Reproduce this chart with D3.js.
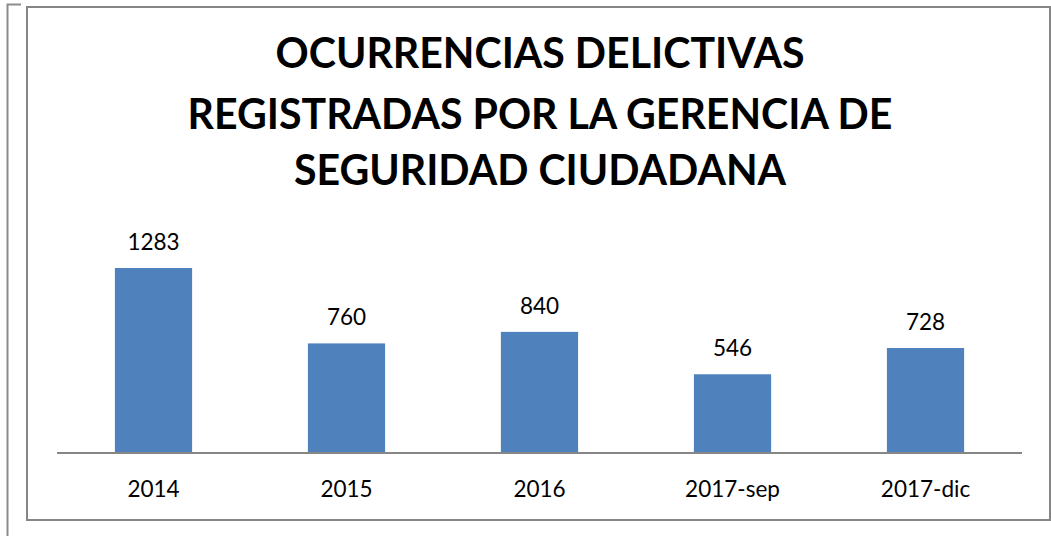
<!DOCTYPE html>
<html>
<head>
<meta charset="utf-8">
<script src="https://cdn.jsdelivr.net/npm/d3@7"></script>
<style>
html,body{margin:0;padding:0;background:#fff;}
svg{display:block;}
</style>
</head>
<body>
<svg id="chart" width="1051" height="536"></svg>
<script>
const categories = ["2014", "2015", "2016", "2017-sep", "2017-dic"];
const values = [1283, 760, 840, 546, 728];
const titleLines = ["OCURRENCIAS DELICTIVAS", "REGISTRADAS POR LA GERENCIA DE", "SEGURIDAD CIUDADANA"];

const svg = d3.select("#chart");
const font = "Lato, Carlito, Calibri, 'Open Sans', sans-serif";

// outer frame fragments
svg.append("path").attr("d", "M21,4.5 H7.5 V536").attr("fill", "none")
  .attr("stroke", "#8c8c8c").attr("stroke-width", 2);
// chart frame
svg.append("rect").attr("x", 27).attr("y", 7).attr("width", 1023).attr("height", 513)
  .attr("fill", "#fff").attr("stroke", "#868686").attr("stroke-width", 2);

const x0 = 57, x1 = 1022, baseY = 453;
const x = d3.scaleBand().domain(categories).range([x0, x1]).paddingInner(0.6).paddingOuter(0.3);
const y = d3.scaleLinear().domain([0, 1400]).range([baseY, baseY - 1400 * 0.1442]);

// bars
svg.selectAll("rect.bar").data(values).join("rect").attr("class", "bar")
  .attr("x", (d, i) => x(categories[i]))
  .attr("y", d => y(d))
  .attr("width", x.bandwidth())
  .attr("height", d => y(0) - y(d))
  .attr("fill", "#4F81BD");

// x axis
const xAxis = d3.axisBottom(x).tickSize(0).tickPadding(0);
const gx = svg.append("g").attr("transform", `translate(0,${baseY})`).call(xAxis);
gx.select(".domain").attr("stroke", "#868686").attr("stroke-width", 2).attr("d", `M${x0},0H${x1}`);
gx.selectAll(".tick text").attr("font-family", font).attr("font-size", 22.5)
  .attr("fill", "#000").attr("dy", null).attr("y", 44);

// data labels
svg.selectAll("text.lbl").data(values).join("text").attr("class", "lbl")
  .attr("x", (d, i) => x(categories[i]) + x.bandwidth() / 2)
  .attr("y", d => y(d) - 18)
  .attr("text-anchor", "middle")
  .attr("font-family", font).attr("font-size", 22.5).attr("fill", "#000")
  .text(d => d);

// title
const titleY = [68, 129, 185];
const tg = svg.append("g");
const tl = tg.selectAll("text").data(titleLines).join("text")
  .attr("x", 540).attr("y", (d, i) => titleY[i])
  .attr("text-anchor", "middle")
  .attr("font-family", font).attr("font-weight", "bold").attr("font-size", 36)
  .attr("fill", "#000").text(d => d);
// fit width of longest line to reference (~705px)
const w = tl.nodes()[1].getComputedTextLength();
if (w > 0) tl.attr("font-size", 36 * 705 / w);
</script>
</body>
</html>
